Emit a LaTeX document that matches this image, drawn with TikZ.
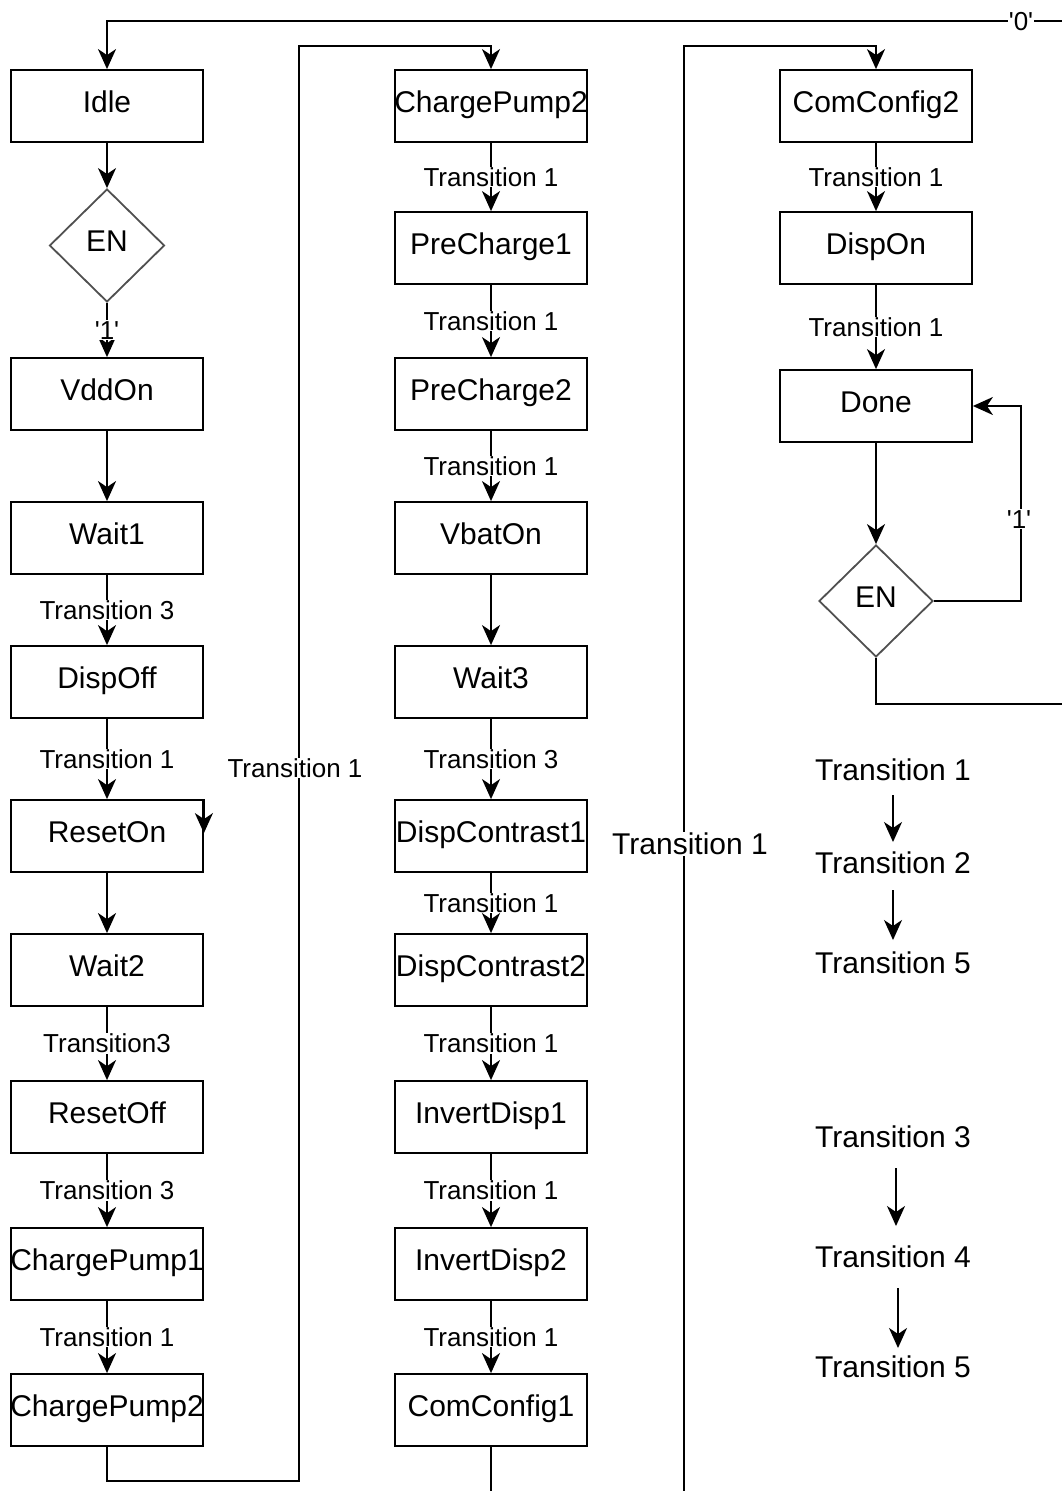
\documentclass[tikz,border=0pt]{standalone}
\usepackage{fontspec}
\setmainfont{Liberation Sans}
\usetikzlibrary{shapes.geometric,arrows.meta}
\newcommand\cbx[1]{\makebox[0pt]{#1}}
\newcommand\sq{\textquotesingle}
\definecolor{diagray}{RGB}{80,80,80}
\begin{document}
\begin{tikzpicture}[x=1pt,y=-1pt,
  box/.style={draw, line width=1.8pt, minimum width=192pt, minimum height=72pt, inner sep=0pt,
    font=\fontsize{30}{33}\selectfont, text height=22.5pt, text depth=9.9pt},
  dia/.style={diamond, draw=diagray, line width=1.8pt, minimum width=115pt, minimum height=113pt,
    inner sep=0pt, font=\fontsize{30}{33}\selectfont, text height=22.5pt, text depth=9.9pt},
  lbl/.style={fill=white, inner sep=1pt, font=\fontsize{26}{28}\selectfont, text height=18.7pt, text depth=0pt},
  big/.style={inner sep=1pt, font=\fontsize{30}{33}\selectfont, text height=21.6pt, text depth=0pt},
  ln/.style={line width=1.8pt},
  arr/.style={line width=1.8pt, -{Stealth[length=20pt,width=18pt,inset=6pt]}}
]
\useasboundingbox (0,0) rectangle (1062,1491);
% column 1
\node[box] (a1) at (107,106) {\cbx{Idle}};
\node[dia] (en1) at (107,245.5) {EN};
\node[box] (a2) at (107,394) {\cbx{VddOn}};
\node[box] (a3) at (107,538) {\cbx{Wait1}};
\node[box] (a4) at (107,682) {\cbx{DispOff}};
\node[box] (a5) at (107,836) {\cbx{ResetOn}};
\node[box] (a6) at (107,970) {\cbx{Wait2}};
\node[box] (a7) at (107,1117) {\cbx{ResetOff}};
\node[box] (a8) at (107,1264) {\cbx{ChargePump1}};
\node[box] (a9) at (107,1410) {\cbx{ChargePump2}};
% column 2
\node[box] (b1) at (491,106) {\cbx{ChargePump2}};
\node[box] (b2) at (491,248) {\cbx{PreCharge1}};
\node[box] (b3) at (491,394) {\cbx{PreCharge2}};
\node[box] (b4) at (491,538) {\cbx{VbatOn}};
\node[box] (b5) at (491,682) {\cbx{Wait3}};
\node[box] (b6) at (491,836) {\cbx{DispContrast1}};
\node[box] (b7) at (491,970) {\cbx{DispContrast2}};
\node[box] (b8) at (491,1117) {\cbx{InvertDisp1}};
\node[box] (b9) at (491,1264) {\cbx{InvertDisp2}};
\node[box] (b10) at (491,1410) {\cbx{ComConfig1}};
% column 3
\node[box] (c1) at (876,106) {\cbx{ComConfig2}};
\node[box] (c2) at (876,248) {\cbx{DispOn}};
\node[box] (c3) at (876,406) {\cbx{Done}};
\node[dia, minimum width=114pt, minimum height=112pt] (en2) at (876,601) {EN};
% edge coordinates
\coordinate (e0) at (1062,21);
\coordinate (e1) at (1062,704);
\coordinate (e2) at (491,1491);
\coordinate (e3) at (684,1491);
% column 1 connectors
\draw[arr] (e0) -| (a1.north);
\node[lbl] (zero) at (1021,21) {\sq0\sq};
\draw[arr] (a1) -- (en1);
\draw[arr] (en1) -- node[lbl] {\sq1\sq} (a2);
\draw[arr] (a2) -- (a3);
\draw[arr] (a3) -- node[lbl] {Transition 3} (a4);
\draw[arr] (a4) -- node[lbl] {Transition 1} (a5);
\draw[arr] (a5.north east) -- ([yshift=-34pt]a5.north east);
\draw[arr] (a5) -- (a6);
\draw[arr] (a6) -- node[lbl] {Transition3} (a7);
\draw[arr] (a7) -- node[lbl] {Transition 3} (a8);
\draw[arr] (a8) -- node[lbl] {Transition 1} (a9);
\draw[arr] (a9.south) |- (299,1481) -- (299,46) -| (b1.north);
\node[lbl] (t1) at (295,768) {Transition 1};
% column 2 connectors
\draw[arr] (b1) -- node[lbl] {Transition 1} (b2);
\draw[arr] (b2) -- node[lbl] {Transition 1} (b3);
\draw[arr] (b3) -- node[lbl] {Transition 1} (b4);
\draw[arr] (b4) -- (b5);
\draw[arr] (b5) -- node[lbl] {Transition 3} (b6);
\draw[arr] (b6) -- node[lbl] {Transition 1} (b7);
\draw[arr] (b7) -- node[lbl] {Transition 1} (b8);
\draw[arr] (b8) -- node[lbl] {Transition 1} (b9);
\draw[arr] (b9) -- node[lbl] {Transition 1} (b10);
\draw[ln] (b10.south) -- (e2);
\draw[arr] (e3) -- (684,46) -| (c1.north);
\node[big, fill=white] (t2) at (690,844) {Transition 1};
% column 3 connectors
\draw[arr] (c1) -- node[lbl] {Transition 1} (c2);
\draw[arr] (c2) -- node[lbl] {Transition 1} (c3);
\draw[arr] (c3) -- (en2);
\draw[arr] (en2.east) -- ++(87,0) |- (c3.east);
\node[lbl] (one2) at (1019,519) {\sq1\sq};
\draw[ln] (en2.south) |- (e1);
% legend
\node[big] (L1) at (893,770) {Transition 1};
\node[big] (L2) at (893,863) {Transition 2};
\node[big] (L3) at (893,963) {Transition 5};
\node[big] (L4) at (893,1137) {Transition 3};
\node[big] (L5) at (893,1257) {Transition 4};
\node[big] (L6) at (893,1367) {Transition 5};
\draw[arr, shorten <=13pt, shorten >=9pt] (L1.south) -- (L2.north);
\draw[arr, shorten <=15pt, shorten >=11pt] (L2.south) -- (L3.north);
\draw[arr, shorten <=19pt, shorten >=19pt] ([xshift=3pt]L4.south) -- ([xshift=3pt]L5.north);
\draw[arr, shorten <=19pt, shorten >=7pt] ([xshift=5pt]L5.south) -- ([xshift=5pt]L6.north);
\end{tikzpicture}
\end{document}
